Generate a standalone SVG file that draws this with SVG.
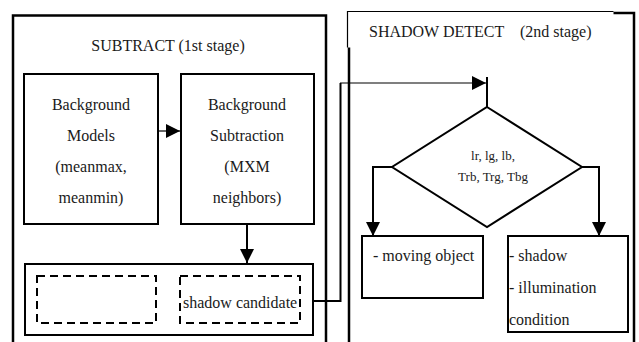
<svg xmlns="http://www.w3.org/2000/svg" width="639" height="342" viewBox="0 0 639 342" font-family="'Liberation Serif', 'Times New Roman', 'DejaVu Serif', serif">
  <style>
    text { font-family: "Liberation Serif", "Times New Roman", "DejaVu Serif", serif; font-size: 16px; fill: #1a1a1a; }
    .small { font-size: 13px; }
    .frame { fill: none; stroke: #000; stroke-width: 2.5; }
    .box { fill: #fff; stroke: #000; stroke-width: 2; }
    .dash { fill: none; stroke: #000; stroke-width: 2; stroke-dasharray: 8 5; }
    .wire { fill: none; stroke: #000; stroke-width: 2; }
    .thin { fill: none; stroke: #000; stroke-width: 1.2; }
  </style>
  <defs>
    <marker id="arrow" viewBox="0 0 10 10" refX="10" refY="5" markerWidth="14" markerHeight="14" markerUnits="userSpaceOnUse" orient="auto">
      <path d="M0,0 L10,5 L0,10 Z" fill="#000"/>
    </marker>
  </defs>
  <rect width="639" height="342" fill="#fff"/>

  <!-- stage 1 frame -->
  <g id="stage1">
    <path class="frame" d="M13,346 V15.5 H326 V346"/>
    <text x="168" y="51" text-anchor="middle">SUBTRACT (1st stage)</text>
  </g>

  <!-- stage 2 frame with its title panel laid over the top-left corner -->
  <g id="stage2">
    <path class="frame" d="M349,346 V13 H634 V346"/>
    <rect x="347.5" y="11" width="266" height="36.5" fill="#fff"/>
    <path d="M347.5,47.5 V11.5 H613.5" fill="none" stroke="#000" stroke-width="1.2"/>
    <text x="369" y="37" xml:space="preserve">SHADOW DETECT    (2nd stage)</text>
  </g>

  <g id="bg-models">
    <rect class="box" x="24" y="74" width="134" height="150"/>
    <text x="91" y="110" text-anchor="middle">Background</text>
    <text x="91" y="141" text-anchor="middle">Models</text>
    <text x="91" y="172" text-anchor="middle">(meanmax,</text>
    <text x="91" y="203" text-anchor="middle">meanmin)</text>
  </g>

  <g id="bg-subtraction">
    <rect class="box" x="181" y="74" width="133" height="150"/>
    <text x="247" y="110" text-anchor="middle">Background</text>
    <text x="247" y="141" text-anchor="middle">Subtraction</text>
    <text x="247" y="172" text-anchor="middle">(MXM</text>
    <text x="247" y="203" text-anchor="middle">neighbors)</text>
  </g>

  <g id="candidates">
    <rect class="box" x="25" y="264" width="288" height="71"/>
    <rect class="dash" x="37" y="276" width="119" height="47"/>
    <rect class="dash" x="180" y="276" width="120" height="47"/>
    <text x="183" y="308">shadow candidate</text>
  </g>

  <g id="decision">
    <polygon points="487,107 582,167 487,227 392,167" fill="#fff" stroke="#000" stroke-width="2"/>
    <text class="small" x="493" y="160" text-anchor="middle">lr, lg, lb,</text>
    <text class="small" x="493" y="181" text-anchor="middle">Trb, Trg, Tbg</text>
  </g>

  <g id="moving-object">
    <rect class="box" x="362" y="236" width="121" height="62"/>
    <text x="373" y="261">- moving object</text>
  </g>

  <g id="shadow">
    <rect class="box" x="508" y="236" width="120" height="96"/>
    <text x="509" y="261">- shadow</text>
    <text x="509" y="293">- illumination</text>
    <text x="509" y="325">condition</text>
  </g>

  <!-- connectors -->
  <g id="connectors">
    <line class="thin" x1="158" y1="131" x2="180" y2="131" marker-end="url(#arrow)"/>
    <line class="wire" x1="247" y1="224" x2="247" y2="263" marker-end="url(#arrow)"/>
    <path class="wire" d="M313,301 H340.5 V83"/>
    <line class="thin" x1="340" y1="83" x2="486" y2="83" marker-end="url(#arrow)"/>
    <line class="wire" x1="487" y1="77" x2="487" y2="107"/>
    <path class="wire" d="M392,167 H373 V236" marker-end="url(#arrow)"/>
    <path class="wire" d="M582,167 H599 V236" marker-end="url(#arrow)"/>
  </g>
</svg>
